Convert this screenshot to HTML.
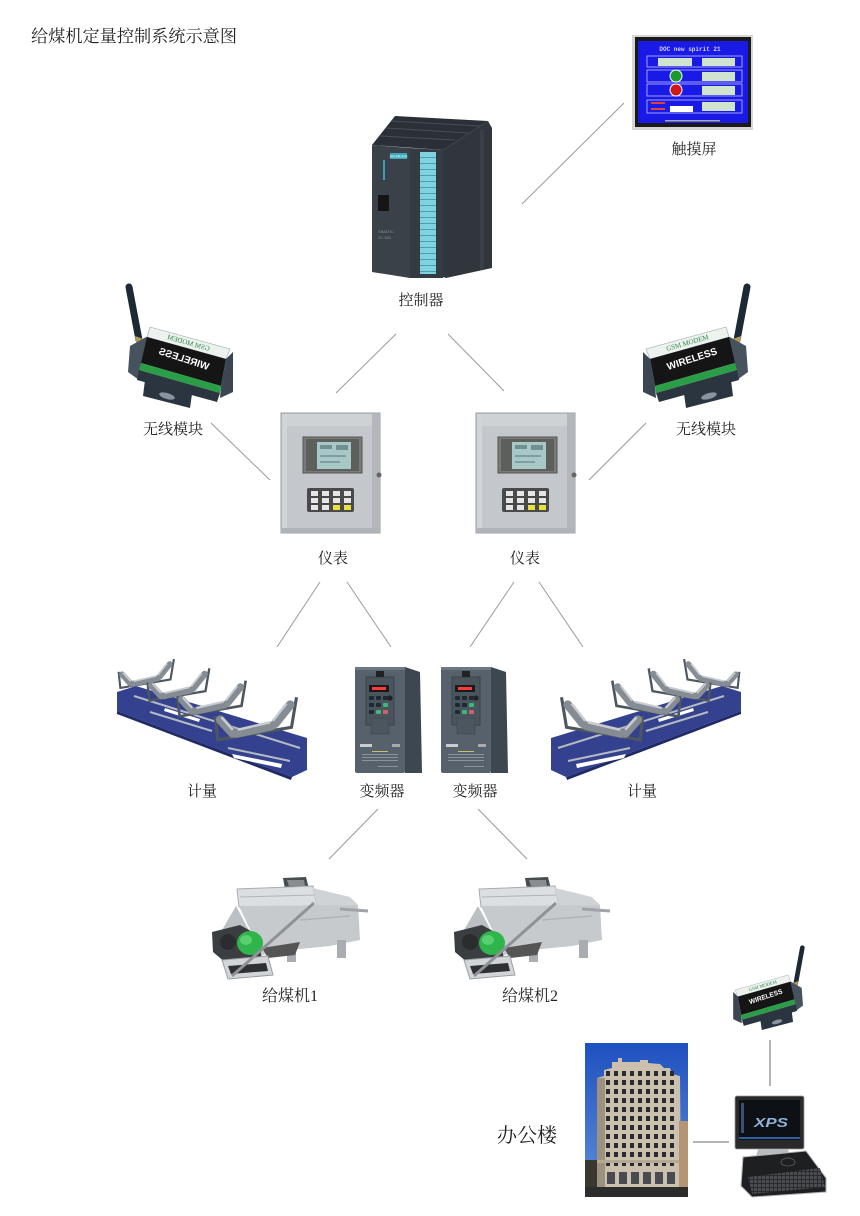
<!DOCTYPE html>
<html>
<head>
<meta charset="utf-8">
<style>
html,body{margin:0;padding:0;background:#fff;}
svg{display:block;}
.lbl{font-family:"Liberation Serif","Noto Serif CJK SC",serif;fill:#222;}
</style>
</head>
<body>
<svg width="860" height="1216" viewBox="0 0 860 1216" xmlns="http://www.w3.org/2000/svg">
<defs>
  <linearGradient id="sky" x1="0" y1="0" x2="0" y2="1">
    <stop offset="0" stop-color="#1f50c0"/>
    <stop offset="1" stop-color="#6090d8"/>
  </linearGradient>
  <pattern id="win" x="606" y="1071" width="8" height="9" patternUnits="userSpaceOnUse">
    <rect x="0" y="0" width="4" height="5" fill="#2a2b30"/>
  </pattern>
  <pattern id="cyan" x="420" y="152" width="16" height="6" patternUnits="userSpaceOnUse">
    <rect x="0" y="0" width="16" height="6" fill="#7fd3e0"/>
    <rect x="0" y="5" width="16" height="1" fill="#4f9fb0"/>
  </pattern>
  <pattern id="keys" x="750" y="1172" width="4" height="4" patternUnits="userSpaceOnUse">
    <rect x="0" y="0" width="4" height="4" fill="#2a2b2e"/>
    <rect x="0" y="0" width="3" height="3" fill="#4a4c50"/>
  </pattern>

  <!-- modem drawn in LEFT orientation (mirrored image) -->
  <g id="modem">
    <line x1="129" y1="287" x2="139" y2="340" stroke="#1d2a36" stroke-width="7" stroke-linecap="round"/>
    <polygon points="135,336 146,340 148,350 137,347" fill="#b49a5a"/>
    <polygon points="130,346 148,336 142,363 139,380 128,372" fill="#46525e"/>
    <polygon points="150,327 230,349 226,359 147,337" fill="#eef2ee" stroke="#9aa" stroke-width="0.6"/>
    <polygon points="147,337 226,359 221,386 141,363" fill="#151515"/>
    <polygon points="141,363 221,386 220,393 139,370" fill="#2a9d47"/>
    <polygon points="139,370 220,393 217,402 137,380" fill="#2b3540"/>
    <polygon points="226,359 233,352 233,392 220,398 221,386" fill="#3b4652"/>
    <polygon points="145,380 192,394 190,408 143,396" fill="#2b3540"/>
    <ellipse cx="167" cy="396" rx="8" ry="3" fill="#8a94a0" transform="rotate(16 167 396)"/>
    <text transform="translate(188,345) rotate(16) scale(-1,1)" text-anchor="middle" font-family="Liberation Serif,serif" font-size="7" fill="#2a8a4a">GSM MODEM</text>
    <text transform="translate(183,362) rotate(18) scale(-1,1)" text-anchor="middle" font-family="Liberation Sans,sans-serif" font-weight="bold" font-size="10" fill="#fff">WIRELESS</text>
  </g>

  <!-- meter (instrument) -->
  <g id="meter">
    <rect x="281" y="413" width="99" height="120" fill="#c4c7cb" stroke="#9a9ea3" stroke-width="1"/>
    <rect x="282" y="414" width="97" height="12" fill="#cfd2d5"/>
    <rect x="282" y="414" width="5" height="118" fill="#d2d5d8"/>
    <rect x="372" y="414" width="7" height="118" fill="#b3b6ba"/>
    <rect x="303" y="437" width="59" height="36" fill="#7a7a78" stroke="#555" stroke-width="1"/>
    <rect x="306" y="439" width="53" height="32" fill="#5c5f5c"/>
    <rect x="317" y="442" width="34" height="27" fill="#a8c8c8"/>
    <rect x="320" y="445" width="12" height="4" fill="#6f8f90"/>
    <rect x="336" y="445" width="12" height="5" fill="#6f8f90"/>
    <rect x="320" y="455" width="26" height="2" fill="#7e9e9f"/>
    <rect x="320" y="461" width="20" height="2" fill="#7e9e9f"/>
    <rect x="307" y="488" width="47" height="24" rx="2" fill="#4a4a4a"/>
    <rect x="311" y="491" width="7" height="5" fill="#e6e6e6"/>
    <rect x="322" y="491" width="7" height="5" fill="#e6e6e6"/>
    <rect x="333" y="491" width="7" height="5" fill="#e6e6e6"/>
    <rect x="344" y="491" width="7" height="5" fill="#e6e6e6"/>
    <rect x="311" y="498" width="7" height="5" fill="#e6e6e6"/>
    <rect x="322" y="498" width="7" height="5" fill="#e6e6e6"/>
    <rect x="333" y="498" width="7" height="5" fill="#e6e6e6"/>
    <rect x="344" y="498" width="7" height="5" fill="#e6e6e6"/>
    <rect x="311" y="505" width="7" height="5" fill="#e6e6e6"/>
    <rect x="322" y="505" width="7" height="5" fill="#e6e6e6"/>
    <rect x="333" y="505" width="7" height="5" fill="#e8e23a"/>
    <rect x="344" y="505" width="7" height="5" fill="#e8e23a"/>
    <circle cx="379" cy="475" r="2.5" fill="#666"/>
    <rect x="281" y="528" width="99" height="5" fill="#b0b3b7"/>
  </g>

  <!-- VFD -->
  <g id="vfd">
    <polygon points="405,667 420,672 422,773 405,773" fill="#3d4750"/>
    <rect x="355" y="667" width="50" height="106" rx="2" fill="#56616b"/>
    <rect x="355" y="667" width="50" height="3" fill="#6d7882"/>
    <rect x="366" y="677" width="28" height="48" fill="#4a545d" stroke="#3a434b" stroke-width="1"/>
    <rect x="376" y="671" width="8" height="6" fill="#222"/>
    <rect x="369" y="685" width="20" height="7" fill="#1a1a1a"/>
    <rect x="372" y="687" width="14" height="3" fill="#ff3a3a"/>
    <circle cx="390" cy="698" r="2.6" fill="#222"/>
    <rect x="369" y="696" width="5" height="4" rx="1" fill="#1e2a33"/>
    <rect x="376" y="696" width="5" height="4" rx="1" fill="#1e2a33"/>
    <rect x="383" y="696" width="5" height="4" rx="1" fill="#1e2a33"/>
    <rect x="369" y="703" width="5" height="4" rx="1" fill="#1e2a33"/>
    <rect x="376" y="703" width="5" height="4" rx="1" fill="#1e2a33"/>
    <rect x="383" y="703" width="5" height="4" rx="1" fill="#3cb878"/>
    <rect x="369" y="710" width="5" height="4" rx="1" fill="#1e2a33"/>
    <rect x="376" y="710" width="5" height="4" rx="1" fill="#3cb878"/>
    <rect x="383" y="710" width="5" height="4" rx="1" fill="#d06070"/>
    <rect x="371" y="718" width="18" height="16" fill="#4c565f" stroke="#414a52" stroke-width="0.8"/>
    <rect x="360" y="744" width="12" height="3" fill="#c8ccd0"/>
    <rect x="392" y="744" width="8" height="3" fill="#a8acb0"/>
    <rect x="372" y="751" width="16" height="1" fill="#c8c070"/>
    <rect x="362" y="754" width="36" height="1" fill="#8a949c"/>
    <rect x="362" y="757" width="36" height="1" fill="#8a949c"/>
    <rect x="362" y="760" width="36" height="1" fill="#8a949c"/>
    <rect x="378" y="766" width="20" height="1" fill="#8a949c"/>
  </g>

  <!-- belt scale (left orientation) -->
  <g id="idler">
    <polyline points="-31,-12 -29,7 30,-3 34,-27" fill="none" stroke="#4e565f" stroke-width="2.5"/>
    <line x1="-27" y1="-9" x2="-17" y2="2" stroke="#858c94" stroke-width="7" stroke-linecap="round"/>
    <line x1="-14" y1="2" x2="14" y2="-4" stroke="#858c94" stroke-width="7" stroke-linecap="round"/>
    <line x1="17" y1="-6" x2="29" y2="-21" stroke="#858c94" stroke-width="7" stroke-linecap="round"/>
    <line x1="-26" y1="-11" x2="-17" y2="-1" stroke="#c8ccd1" stroke-width="2"/>
    <line x1="-13" y1="-1" x2="13" y2="-7" stroke="#c8ccd1" stroke-width="2"/>
    <line x1="15" y1="-8" x2="26" y2="-22" stroke="#c8ccd1" stroke-width="2"/>
  </g>
  <g id="scale">
    <polygon points="117,692 136,686 307,738 307,770 292,777 117,711" fill="#33418f"/>
    <polygon points="117,711 292,777 291,780 117,714" fill="#1f2a66"/>
    <polygon points="165,708 200,719 199,722 164,711" fill="#fff"/>
    <polygon points="232,754 282,764 281,768 234,758" fill="#fff"/>
    <line x1="134" y1="696" x2="300" y2="748" stroke="#b5bac1" stroke-width="2"/>
    <line x1="150" y1="712" x2="212" y2="731" stroke="#b5bac1" stroke-width="2"/>
    <line x1="228" y1="748" x2="290" y2="761" stroke="#b5bac1" stroke-width="2"/>
    <use href="#idler" transform="translate(145,682) scale(0.85)"/>
    <use href="#idler" transform="translate(177,694) scale(0.95)"/>
    <use href="#idler" transform="translate(210,709) scale(1.05)"/>
    <use href="#idler" transform="translate(254,731) scale(1.25)"/>
  </g>

  <!-- coal feeder -->
  <g id="feeder">
    <polygon points="283,878 306,877 309,889 285,889" fill="#4a4d50"/>
    <polygon points="287,880 304,880 305,886 289,886" fill="#8a8d90"/>
    <polygon points="237,889 313,886 317,906 239,907" fill="#dcdfe2" stroke="#a8acb0" stroke-width="1"/>
    <line x1="240" y1="897" x2="315" y2="895" stroke="#b0b4b8"/>
    <polygon points="313,888 350,897 358,905 317,906" fill="#cfd3d6"/>
    <polygon points="239,906 358,905 360,940 330,946 290,950 262,955" fill="#c6cacd"/>
    <polygon points="236,906 262,955 250,962 222,930" fill="#bcc0c4"/>
    <line x1="340" y1="909" x2="368" y2="911" stroke="#a0a4a8" stroke-width="3"/>
    <line x1="300" y1="920" x2="350" y2="916" stroke="#b0b4b8" stroke-width="1.5"/>
    <rect x="287" y="945" width="9" height="17" fill="#a9adb1"/>
    <rect x="337" y="940" width="9" height="18" fill="#a9adb1"/>
    <polygon points="262,948 300,942 295,955 268,958" fill="#555"/>
    <polygon points="212,932 240,925 258,935 262,960 226,963 213,952" fill="#3b3e41"/>
    <circle cx="228" cy="942" r="8" fill="#2a2c2e"/>
    <ellipse cx="250" cy="943" rx="13" ry="12" fill="#2fb54c"/>
    <ellipse cx="246" cy="940" rx="6" ry="5" fill="#59d070"/>
    <polygon points="222,960 268,956 273,975 228,979" fill="#d2d5d8" stroke="#9a9ea2" stroke-width="1"/>
    <polygon points="228,966 266,963 268,971 231,974" fill="#2e3033"/>
    <line x1="232" y1="976" x2="314" y2="903" stroke="#8e9296" stroke-width="3"/>
  </g>
</defs>

<!-- Title -->
<text class="lbl" x="31" y="42" font-size="17" textLength="206" lengthAdjust="spacingAndGlyphs">给煤机定量控制系统示意图</text>

<!-- connectors -->
<g stroke="#9a9a9a" stroke-width="1" fill="none">
  <line x1="624" y1="103" x2="522" y2="204"/>
  <line x1="396" y1="334" x2="336" y2="393"/>
  <line x1="448" y1="334" x2="504" y2="391"/>
  <line x1="211" y1="423" x2="270" y2="480"/>
  <line x1="646" y1="423" x2="589" y2="480"/>
  <line x1="320" y1="582" x2="277" y2="647"/>
  <line x1="347" y1="582" x2="391" y2="647"/>
  <line x1="514" y1="582" x2="470" y2="647"/>
  <line x1="539" y1="582" x2="583" y2="647"/>
  <line x1="378" y1="809" x2="329" y2="859"/>
  <line x1="478" y1="809" x2="527" y2="859"/>
  <line x1="770" y1="1040" x2="770" y2="1086" stroke-width="1.5"/>
  <line x1="693" y1="1142" x2="729" y2="1142" stroke-width="1.5"/>
</g>

<!-- Touch screen -->
<rect x="632" y="35" width="121" height="95" fill="#d6d6d4"/>
<rect x="635" y="37" width="116" height="90" fill="#1a1a1a"/>
<rect x="638" y="41" width="110" height="82" fill="#1a1ae6"/>
<text x="690" y="51" text-anchor="middle" font-family="Liberation Mono,monospace" font-weight="bold" font-size="6" fill="#d0d0ff">DOC new spirit 21</text>
<g fill="none" stroke="#c0c0ff" stroke-width="0.8">
  <rect x="647" y="56" width="95" height="11"/>
  <rect x="647" y="70" width="95" height="12"/>
  <rect x="647" y="84" width="95" height="12"/>
  <rect x="647" y="100" width="95" height="13"/>
</g>
<g fill="#cfe3cf">
  <rect x="658" y="58" width="34" height="8"/>
  <rect x="702" y="58" width="33" height="8"/>
  <rect x="702" y="72" width="33" height="9"/>
  <rect x="702" y="86" width="33" height="9"/>
  <rect x="702" y="102" width="33" height="9"/>
</g>
<circle cx="676" cy="76" r="6" fill="#1a9a2a" stroke="#fff" stroke-width="1"/>
<circle cx="676" cy="90" r="6" fill="#d01818" stroke="#fff" stroke-width="1"/>
<rect x="670" y="106" width="23" height="6" fill="#fff"/>
<rect x="651" y="102" width="14" height="2" fill="#e04040"/>
<rect x="651" y="108" width="14" height="2" fill="#e04040"/>
<rect x="665" y="120" width="55" height="1.5" fill="#aaa"/>
<text class="lbl" x="694" y="154" font-size="15" text-anchor="middle">触摸屏</text>

<!-- PLC -->
<polygon points="372,145 395,116 488,121 443,150" fill="#2b3036"/>
<g stroke="#474e56" stroke-width="1">
  <line x1="380" y1="136" x2="455" y2="140"/>
  <line x1="386" y1="128" x2="468" y2="133"/>
  <line x1="391" y1="121" x2="480" y2="126"/>
</g>
<polygon points="443,150 488,121 492,128 492,268 446,278 443,277" fill="#30363c"/>
<rect x="480" y="130" width="4" height="140" fill="#3a4047"/>
<polygon points="372,145 410,148 410,278 372,272" fill="#3a4148"/>
<polygon points="410,148 443,150 443,278 410,278" fill="#343b42"/>
<rect x="420" y="152" width="16" height="122" fill="url(#cyan)"/>
<rect x="390" y="153" width="17" height="6" fill="#39a8b8"/>
<text x="398.5" y="157.6" text-anchor="middle" font-family="Liberation Sans,sans-serif" font-size="4" fill="#fff">SIEMENS</text>
<rect x="383" y="160" width="2" height="20" fill="#3aa0b0"/>
<rect x="378" y="195" width="11" height="16" fill="#151515"/>
<text x="378" y="233" font-family="Liberation Sans,sans-serif" font-size="4" fill="#8a9098">SIMATIC</text>
<text x="378" y="239" font-family="Liberation Sans,sans-serif" font-size="4" fill="#8a9098">S7-300</text>
<text class="lbl" x="421" y="305" font-size="15" text-anchor="middle">控制器</text>

<!-- Modems -->
<use href="#modem"/>
<use href="#modem" transform="translate(876,0) scale(-1,1)"/>
<use href="#modem" transform="translate(805,945) scale(-0.665,0.68) translate(-125,-283)"/>
<text class="lbl" x="173" y="434" font-size="15" text-anchor="middle">无线模块</text>
<text class="lbl" x="706" y="434" font-size="15" text-anchor="middle">无线模块</text>

<!-- Meters -->
<use href="#meter"/>
<use href="#meter" transform="translate(195,0)"/>
<text class="lbl" x="333" y="563" font-size="15" text-anchor="middle">仪表</text>
<text class="lbl" x="525" y="563" font-size="15" text-anchor="middle">仪表</text>

<!-- Scales -->
<use href="#scale"/>
<use href="#scale" transform="translate(858,0) scale(-1,1)"/>
<text class="lbl" x="202" y="796" font-size="15" text-anchor="middle">计量</text>
<text class="lbl" x="642" y="796" font-size="15" text-anchor="middle">计量</text>

<!-- VFDs -->
<use href="#vfd"/>
<use href="#vfd" transform="translate(86,0)"/>
<text class="lbl" x="382" y="796" font-size="15" text-anchor="middle">变频器</text>
<text class="lbl" x="475" y="796" font-size="15" text-anchor="middle">变频器</text>

<!-- Feeders -->
<use href="#feeder"/>
<use href="#feeder" transform="translate(242,0)"/>
<text class="lbl" x="262" y="1001" font-size="16">给煤机1</text>
<text class="lbl" x="502" y="1001" font-size="16">给煤机2</text>

<!-- Office building -->
<rect x="585" y="1043" width="103" height="154" fill="url(#sky)"/>
<polygon points="597,1078 604,1076 604,1070 612,1068 612,1062 618,1062 618,1058 622,1058 622,1062 640,1062 640,1060 648,1060 648,1063 660,1064 664,1068 670,1068 672,1074 680,1076 681,1189 597,1189" fill="#cbbfae"/>
<rect x="597" y="1078" width="8" height="111" fill="#9d917f"/>
<rect x="606" y="1071" width="72" height="99" fill="url(#win)"/>
<rect x="597" y="1160" width="84" height="3" fill="#b5a995"/>
<g fill="#4a4b50">
  <rect x="607" y="1172" width="8" height="12"/>
  <rect x="619" y="1172" width="8" height="12"/>
  <rect x="631" y="1172" width="8" height="12"/>
  <rect x="643" y="1172" width="8" height="12"/>
  <rect x="655" y="1172" width="8" height="12"/>
  <rect x="667" y="1172" width="8" height="12"/>
</g>
<rect x="679" y="1121" width="9" height="68" fill="#b59674"/>
<rect x="585" y="1160" width="12" height="37" fill="#3a3630"/>
<rect x="585" y="1187" width="103" height="10" fill="#2c2c2c"/>
<text class="lbl" x="497" y="1142" font-size="20">办公楼</text>

<!-- Computer -->
<rect x="735" y="1096" width="69" height="53" rx="2" fill="#2a2a2a" stroke="#999" stroke-width="0.8"/>
<rect x="739" y="1100" width="61" height="40" fill="#0d1014"/>
<rect x="741" y="1103" width="3" height="30" fill="#3a5070"/>
<text x="771" y="1127" text-anchor="middle" font-family="Liberation Sans,sans-serif" font-weight="bold" font-style="italic" font-size="13" fill="#8fb3d6" textLength="34" lengthAdjust="spacingAndGlyphs">XPS</text>
<rect x="739" y="1137" width="61" height="2" fill="#3060a0"/>
<polygon points="758,1149 788,1149 790,1157 756,1157" fill="#b8bcc0"/>
<polygon points="743,1157 806,1151 826,1178 826,1192 752,1197 741,1186" fill="#1e1f21" stroke="#b5b5b5" stroke-width="1"/>
<ellipse cx="788" cy="1162" rx="7" ry="4" fill="none" stroke="#555" stroke-width="1"/>
<polygon points="748,1177 820,1168 825,1187 752,1194" fill="url(#keys)"/>
</svg>
</body>
</html>
